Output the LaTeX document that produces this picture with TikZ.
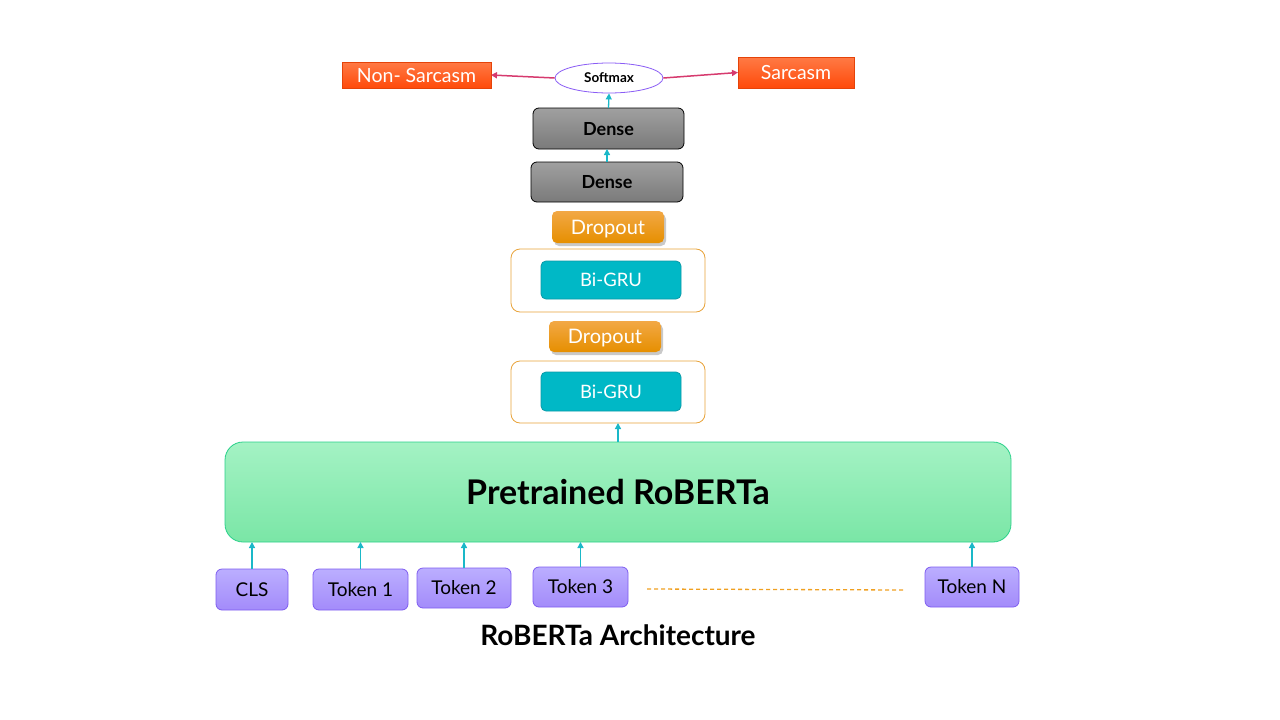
\documentclass[tikz,border=0pt]{standalone}
\usepackage{fontspec}
\setmainfont{Lato}
\usetikzlibrary{arrows.meta,shadows,shapes.geometric}
\definecolor{orA}{HTML}{FF7A45}
\definecolor{orB}{HTML}{FF4A0A}
\definecolor{softB}{HTML}{8A5CF5}
\definecolor{crim}{HTML}{D63A6E}
\definecolor{cyanA}{HTML}{1AB8C8}
\definecolor{grA}{HTML}{A0A0A0}
\definecolor{grB}{HTML}{7A7A7A}
\definecolor{dpA}{HTML}{F2A845}
\definecolor{dpB}{HTML}{E68F00}
\definecolor{guB}{HTML}{E8A33A}
\definecolor{guF}{HTML}{00B8C6}
\definecolor{guD}{HTML}{0A9AA8}
\definecolor{rbA}{HTML}{A4F2C4}
\definecolor{rbB}{HTML}{7AE6A6}
\definecolor{rbD}{HTML}{2AD08A}
\definecolor{tkA}{HTML}{BBAEFF}
\definecolor{tkB}{HTML}{A38BFA}
\definecolor{tkD}{HTML}{7E5CF0}
\definecolor{dashc}{HTML}{F0A020}
\tikzset{
  box/.style={inner sep=0pt, outer sep=0pt, text depth=0pt},
  outbox/.style={box, text height=14pt, top color=orA, bottom color=orB, draw=orB!90!black, line width=0.6pt, text=white, font=\fontsize{19.5}{22}\selectfont},
  densebox/.style={box, text height=13pt, rounded corners=6pt, top color=grA, bottom color=grB, draw=black, line width=0.8pt, font=\bfseries\fontsize{18}{21}\selectfont},
  dropbox/.style={box, text height=14.4pt, rounded corners=5pt, top color=dpA, bottom color=dpB, draw=none, text=white, font=\fontsize{20}{23}\selectfont, drop shadow={shadow xshift=2pt, shadow yshift=-3pt, opacity=0.3, fill=black!70}},
  gruouter/.style={box, rounded corners=9pt, fill=white, draw=guB, line width=0.8pt},
  gruinner/.style={box, text height=13.3pt, rounded corners=5pt, fill=guF, draw=guD, line width=0.8pt, text=white, font=\fontsize{18.5}{21}\selectfont},
  tokbox/.style={box, text height=13.7pt, rounded corners=6pt, top color=tkA, bottom color=tkB, draw=tkD, line width=0.8pt, font=\fontsize{19}{22}\selectfont},
  cyarrow/.style={draw=cyanA, line width=1.3pt, -{Triangle[width=6pt,length=6pt]}},
  crarrow/.style={draw=crim, line width=1.5pt, -{Triangle[width=6pt,length=6pt]}},
}
\begin{document}
\begin{tikzpicture}[x=1pt,y=-1pt]
\useasboundingbox (0,0) rectangle (1280,720);
% output layer
\node[outbox, minimum width=149pt, minimum height=26pt] (nonsarc) at (416.5,75) {Non- Sarcasm};
\node[outbox, minimum width=116pt, minimum height=31pt] (sarc) at (796,72.5) {Sarcasm};
\node[ellipse, draw=softB, fill=white, line width=0.8pt, minimum width=108pt, minimum height=30pt, inner sep=0pt, text height=9.7pt, text depth=0pt, font=\bfseries\fontsize{13.5}{15}\selectfont] (softmax) at (609,78) {Softmax};
% dense
\node[densebox, minimum width=151pt, minimum height=41pt] (dense2) at (608.5,128.5) {Dense};
\node[densebox, minimum width=152pt, minimum height=40pt] (dense1) at (607,182) {Dense};
% dropout + gru
\node[dropbox, minimum width=112pt, minimum height=32pt] (drop2) at (608,227) {Dropout};
\node[gruouter, minimum width=194pt, minimum height=63pt] (gruo2) at (608,280.5) {};
\node[gruinner, minimum width=140pt, minimum height=38pt] (grui2) at (611,280) {Bi-GRU};
\node[dropbox, minimum width=112pt, minimum height=31pt] (drop1) at (605,336.5) {Dropout};
\node[gruouter, minimum width=194pt, minimum height=62pt] (gruo1) at (608,392) {};
\node[gruinner, minimum width=140pt, minimum height=39pt] (grui1) at (611,391.5) {Bi-GRU};
% roberta
\node[box, text height=24.4pt, rounded corners=18pt, top color=rbA, bottom color=rbB, draw=rbD, line width=0.8pt, minimum width=786pt, minimum height=100pt, font=\bfseries\fontsize{34}{40}\selectfont] (roberta) at (618,492) {Pretrained RoBERTa};
% tokens
\node[tokbox, minimum width=72pt, minimum height=41pt] (cls) at (252,589.5) {CLS};
\node[tokbox, minimum width=95pt, minimum height=41pt] (t1) at (360.5,589.5) {Token 1};
\node[tokbox, minimum width=94pt, minimum height=40pt] (t2) at (464,588) {Token 2};
\node[tokbox, minimum width=95pt, minimum height=40pt] (t3) at (580.5,587) {Token 3};
\node[tokbox, minimum width=94pt, minimum height=40pt] (tN) at (972,587) {Token N};
\coordinate (d1) at (647,589);
\coordinate (d2) at (903,590);
\draw[dashc, line width=1.3pt, dash pattern=on 4pt off 3pt] (d1) -- (d2);
% title
\node[font=\bfseries\fontsize{28}{32}\selectfont, text height=20.1pt, text depth=0pt, inner sep=0pt] (title) at (618,635) {RoBERTa Architecture};
% arrows
\foreach \t in {cls,t1,t2,t3,tN}{
  \draw[cyarrow] (\t.north) -- (\t.north |- roberta.south);
}
\draw[cyarrow] (roberta.north) -- (roberta.north |- gruo1.south);
\draw[cyarrow] (dense1.north) -- (dense1.north |- dense2.south);
\draw[cyarrow] (dense2.north) -- (softmax.south);
\draw[crarrow] (softmax.west) -- (nonsarc.east);
\draw[crarrow] (softmax.east) -- (sarc.west);
\end{tikzpicture}
\end{document}
